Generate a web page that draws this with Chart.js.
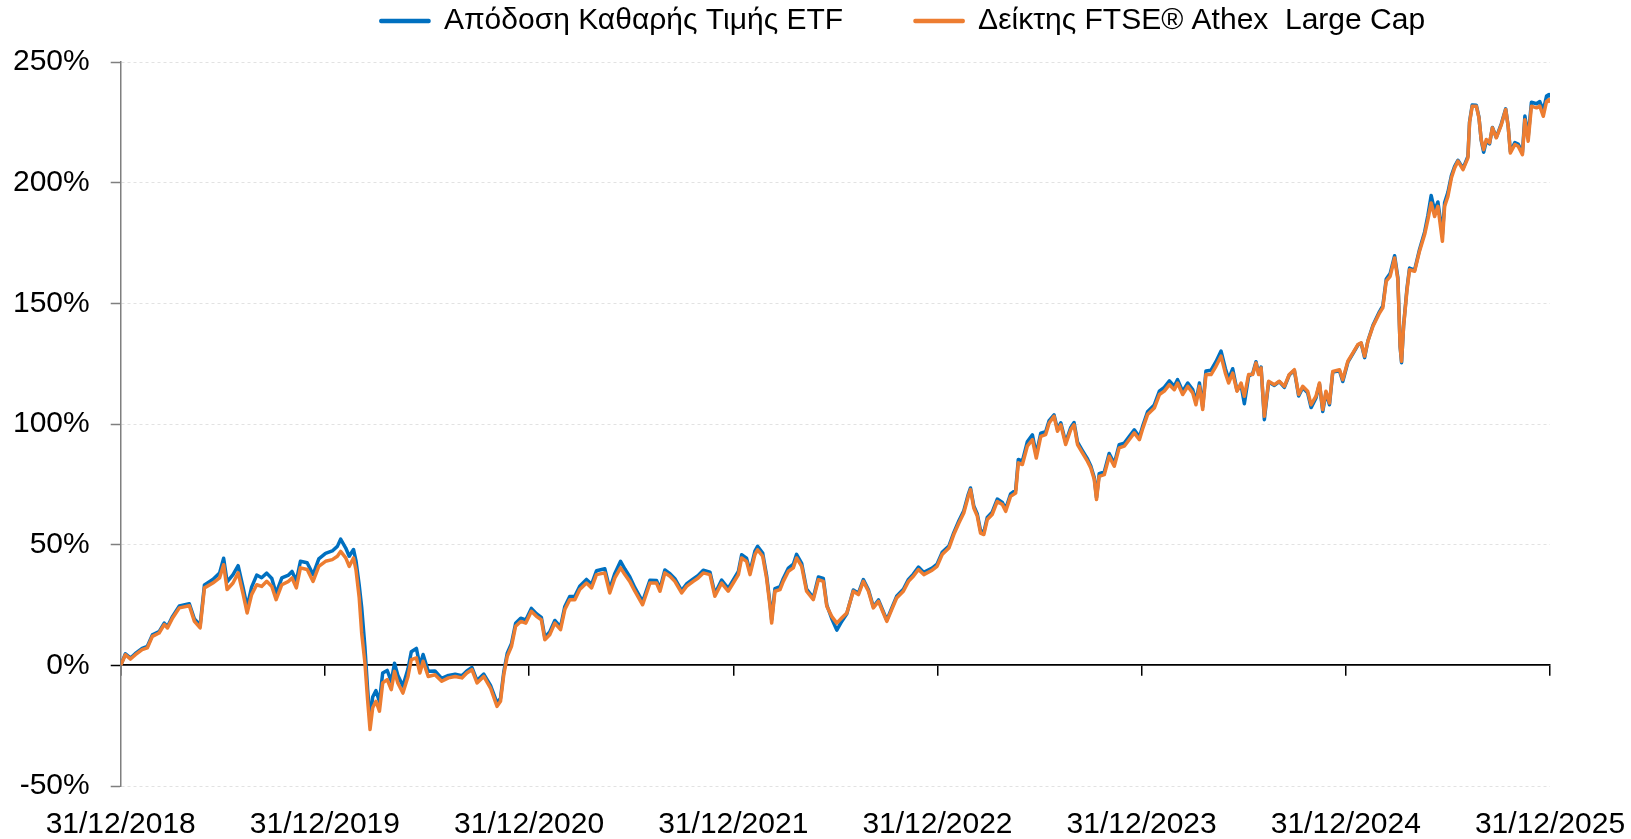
<!DOCTYPE html>
<html>
<head>
<meta charset="utf-8">
<script src="https://cdn.jsdelivr.net/npm/chart.js@4.4.1/dist/chart.umd.min.js"></script>
<style>
  html, body { margin: 0; padding: 0; background: #fff; }
  #wrap { width: 1631px; height: 839px; }
</style>
</head>
<body>
<div id="wrap"><canvas id="output"></canvas></div>
<script>
// years since 31/12/2018
const elapsedYears = [
  0.000,0.023,0.048,0.072,0.105,0.130,0.155,0.188,0.213,0.229,
  0.254,0.287,0.336,0.361,0.389,0.410,0.451,0.484,0.504,0.521,
  0.550,0.575,0.600,0.619,0.641,0.666,0.690,0.715,0.740,0.761,
  0.789,0.822,0.839,0.860,0.880,0.913,0.942,0.970,1.003,1.036,
  1.061,1.077,1.102,1.119,1.140,1.152,1.168,1.180,1.196,1.209,
  1.221,1.234,1.250,1.267,1.283,1.305,1.325,1.341,1.357,1.382,
  1.407,1.423,1.448,1.465,1.481,1.506,1.539,1.572,1.605,1.638,
  1.671,1.695,1.720,1.745,1.778,1.811,1.843,1.860,1.876,1.893,
  1.914,1.934,1.959,1.984,2.011,2.036,2.060,2.077,2.101,2.126,
  2.154,2.175,2.199,2.224,2.248,2.281,2.306,2.330,2.371,2.395,
  2.420,2.448,2.469,2.493,2.518,2.556,2.592,2.624,2.641,2.665,
  2.690,2.714,2.747,2.771,2.804,2.828,2.853,2.886,2.910,2.943,
  2.975,3.000,3.025,3.041,3.065,3.082,3.106,3.119,3.144,3.163,
  3.180,3.188,3.204,3.229,3.245,3.270,3.294,3.310,3.335,3.359,
  3.392,3.417,3.441,3.458,3.482,3.507,3.531,3.556,3.588,3.613,
  3.637,3.662,3.686,3.711,3.735,3.752,3.776,3.800,3.833,3.858,
  3.882,3.907,3.933,3.974,3.998,4.023,4.056,4.080,4.105,4.129,
  4.151,4.162,4.178,4.195,4.211,4.227,4.244,4.268,4.293,4.318,
  4.334,4.358,4.383,4.396,4.416,4.440,4.465,4.484,4.506,4.530,
  4.547,4.571,4.588,4.604,4.628,4.653,4.669,4.686,4.710,4.735,
  4.751,4.768,4.779,4.792,4.817,4.841,4.866,4.890,4.915,4.939,
  4.964,4.989,5.004,5.029,5.062,5.087,5.111,5.136,5.160,5.176,
  5.201,5.226,5.250,5.266,5.283,5.299,5.315,5.340,5.364,5.389,
  5.410,5.426,5.446,5.467,5.487,5.503,5.524,5.544,5.560,5.573,
  5.585,5.601,5.622,5.650,5.674,5.699,5.723,5.748,5.769,5.789,
  5.813,5.830,5.854,5.871,5.887,5.903,5.920,5.936,5.969,5.985,
  6.010,6.034,6.059,6.075,6.092,6.108,6.133,6.165,6.181,6.198,
  6.217,6.239,6.255,6.266,6.273,6.283,6.299,6.312,6.337,6.361,
  6.386,6.402,6.418,6.435,6.451,6.473,6.484,6.500,6.517,6.533,
  6.549,6.574,6.598,6.606,6.619,6.639,6.652,6.663,6.675,6.688,
  6.704,6.718,6.737,6.762,6.783,6.795,6.806,6.828,6.844,6.865,
  6.877,6.893,6.909,6.934,6.950,6.967,6.983,6.995,7.000
];

// ETF net price return, %
const etfReturn = [
  0.0,4.8,3.0,4.9,7.0,7.8,12.6,14.0,17.5,16.1,
  20.3,24.6,25.5,19.2,16.6,33.3,35.6,38.2,44.4,34.6,
  37.6,41.3,32.0,24.2,32.4,37.4,36.3,38.2,36.0,29.8,
  36.2,37.4,38.9,35.0,43.1,42.5,37.6,44.1,46.4,47.4,
  49.3,52.3,48.6,45.2,48.0,43.4,33.2,24.1,7.5,-9.8,
  -22.5,-13.1,-10.5,-15.0,-3.2,-2.1,-6.6,0.9,-4.1,-8.6,
  -1.4,5.6,7.0,-0.1,4.5,-2.5,-2.3,-5.4,-4.2,-3.7,
  -4.3,-2.3,-0.9,-6.3,-3.6,-8.3,-15.6,-13.6,-2.7,5.0,
  9.1,17.4,19.5,18.8,23.6,21.4,19.9,11.7,13.8,18.6,
  15.9,24.4,28.5,28.6,32.8,35.6,33.6,39.2,40.0,31.6,
  38.1,43.1,39.9,36.7,32.2,26.4,35.3,35.2,31.8,39.5,
  38.0,35.9,31.0,33.7,35.8,37.2,39.4,38.6,29.7,35.3,
  31.9,35.4,38.9,45.8,44.4,38.8,47.3,49.3,46.5,37.3,
  25.6,18.9,31.8,32.6,36.0,40.3,41.9,46.0,42.3,31.6,
  28.0,36.6,36.0,25.0,19.4,14.6,18.2,21.4,31.2,29.9,
  35.5,31.3,24.3,27.1,22.2,18.7,23.7,28.6,31.5,35.6,
  37.8,40.7,38.5,40.3,41.9,46.8,49.4,55.0,59.9,64.1,
  70.9,73.5,66.0,62.7,55.8,55.1,61.3,63.5,68.9,67.5,
  64.8,71.0,72.6,85.3,84.6,92.6,95.5,87.4,96.2,96.8,
  101.4,103.8,97.8,100.5,92.4,98.6,100.6,92.5,89.0,85.5,
  82.6,77.8,69.5,79.4,80.1,87.8,83.6,91.4,92.1,94.8,
  97.6,94.6,98.8,105.1,107.9,113.6,115.2,117.9,115.6,118.4,
  113.5,117.0,114.3,109.2,117.0,107.1,122.0,122.3,125.8,130.2,
  123.0,118.6,122.9,113.9,116.2,108.4,119.8,120.9,125.8,121.0,
  123.6,101.8,117.4,116.0,117.6,115.2,120.3,122.2,111.6,115.0,
  112.9,106.8,110.8,116.6,105.2,113.0,108.0,121.5,122.1,117.6,
  125.6,129.1,132.7,133.5,127.5,134.4,140.9,146.6,148.9,160.1,
  162.3,169.7,160.6,132.0,125.4,140.9,155.8,164.6,163.8,172.3,
  179.6,186.5,194.7,188.3,192.0,178.6,191.8,196.0,202.9,206.8,
  209.3,205.9,210.9,225.2,232.2,232.1,227.2,217.6,212.6,217.2,
  216.1,222.9,218.8,224.5,230.6,223.5,212.9,216.6,216.0,212.5,
  227.6,218.9,233.3,232.7,233.6,229.9,235.9,236.5,235.3
];

// FTSE Athex Large Cap index, %
const indexReturn = [
  0.0,4.4,2.6,4.4,6.5,7.2,12.0,13.4,16.9,15.5,
  19.6,23.8,24.7,18.2,15.5,32.1,34.1,36.2,41.7,31.4,
  34.1,38.3,29.3,21.7,29.3,33.4,32.7,34.8,32.7,27.2,
  33.4,34.8,36.2,32.1,40.4,39.7,34.8,41.0,43.1,43.8,
  45.2,47.2,44.5,41.0,44.5,39.7,28.0,13.4,1.0,-14.2,
  -26.6,-17.6,-14.9,-19.0,-7.3,-5.9,-10.1,-2.5,-7.3,-11.5,
  -4.6,2.4,3.1,-3.2,1.7,-4.6,-3.9,-6.6,-5.2,-4.6,
  -5.2,-3.2,-1.8,-7.3,-4.6,-9.4,-17.0,-14.9,-3.9,3.7,
  7.9,16.2,18.2,17.5,22.4,20.3,18.9,10.6,12.7,17.5,
  14.8,23.1,27.2,27.2,31.4,34.1,32.1,37.6,38.3,30.0,
  36.2,40.4,37.6,34.8,30.7,25.1,34.1,34.1,30.7,38.3,
  36.9,34.8,30.0,32.7,34.8,36.2,38.3,37.6,28.6,34.1,
  30.7,34.1,37.6,44.5,43.1,37.6,45.9,47.9,45.2,36.2,
  24.5,17.5,30.7,31.4,34.8,39.0,40.4,44.5,41.0,30.7,
  27.2,35.5,34.8,24.5,20.3,17.5,19.6,21.7,30.7,29.3,
  34.8,30.7,23.8,26.5,21.7,18.2,23.1,27.9,30.7,34.8,
  36.9,39.7,37.6,39.4,41.0,45.9,48.6,54.2,59.0,63.1,
  70.0,72.8,65.2,61.8,54.8,54.2,60.4,62.5,67.9,66.6,
  63.8,70.0,71.4,83.9,83.2,90.8,93.5,85.9,94.9,95.6,
  100.4,103.2,97.0,99.7,91.5,97.7,99.7,91.5,88.0,84.5,
  81.8,77.0,68.7,78.3,79.0,86.6,82.5,90.1,90.8,93.5,
  96.3,93.5,97.7,103.9,106.6,112.2,113.6,116.3,114.2,117.0,
  112.2,115.6,112.9,108.0,115.6,106.0,120.5,120.5,123.9,128.1,
  121.1,117.0,121.1,113.6,117.0,111.5,120.5,120.5,125.3,120.5,
  123.2,103.2,117.7,116.3,117.7,115.6,120.5,122.5,112.2,115.6,
  113.6,108.0,111.5,117.0,106.0,113.6,108.7,121.8,122.5,118.4,
  126.0,129.4,132.9,133.6,128.1,134.3,140.5,146.0,148.1,159.2,
  161.2,168.8,159.8,132.2,126.0,140.5,155.0,163.9,163.3,171.6,
  178.5,184.7,191.6,186.0,190.2,175.7,190.2,194.3,201.9,206.1,
  208.9,205.4,210.3,224.8,231.7,231.7,226.9,217.9,213.7,217.9,
  216.5,222.7,218.6,224.1,230.3,223.4,212.3,215.8,215.1,211.6,
  226.1,217.2,231.7,231.0,231.7,227.5,233.7,234.4,233.1
];

const seriesNames = ["Απόδοση Καθαρής Τιμής ETF", "Δείκτης FTSE® Athex  Large Cap"];
const seriesColors = ["#0070C0", "#ED7D31"];
const startYear = 2018; // axis starts at 31/12/2018

Chart.defaults.font.family = "'Liberation Sans', Arial, sans-serif";
Chart.defaults.font.size = 30;
Chart.defaults.color = "#000";

const toPoints = (vals) => vals.map((v, i) => ({ x: elapsedYears[i], y: v }));

// legend: leave room under it and sit it right of centre like the original
const legendPlacement = {
  id: "legendPlacement",
  beforeInit(chart) {
    const fit = chart.legend.fit;
    chart.legend.fit = function () {
      fit.call(this);
      this.height += 16;
    };
  },
  afterLayout(chart) {
    chart.legend.left += 132;
    chart.legend.right += 132;
  },
};

const ctx = document.getElementById("output").getContext("2d");

new Chart(ctx, {
  type: "line",
  data: {
    datasets: [
      {
        label: seriesNames[0],
        data: toPoints(etfReturn),
        borderColor: seriesColors[0],
        backgroundColor: seriesColors[0],
        borderWidth: 3.5,
        borderJoinStyle: "round",
        pointRadius: 0,
        order: 1, // drawn under the index line
      },
      {
        label: seriesNames[1],
        data: toPoints(indexReturn),
        borderColor: seriesColors[1],
        backgroundColor: seriesColors[1],
        borderWidth: 3.5,
        borderJoinStyle: "round",
        pointRadius: 0,
        order: 0,
      },
    ],
  },
  options: {
    responsive: true,
    maintainAspectRatio: false,
    animation: false,
    layout: { padding: { top: -66, left: -8, right: 81, bottom: -4 } },
    plugins: {
      legend: {
        labels: {
          boxWidth: 48,
          boxHeight: 1,
          padding: 72,
          color: "#000",
          sort: (a, b) => a.datasetIndex - b.datasetIndex,
        },
      },
      tooltip: { enabled: false },
    },
    scales: {
      x: {
        type: "linear",
        min: 0,
        max: 7,
        grid: { display: false, tickLength: 21 },
        border: { display: false },
        ticks: {
          stepSize: 1,
          padding: 0,
          autoSkip: false,
          maxRotation: 0,
          callback: (v) => "31/12/" + (startYear + v),
        },
      },
      // zero line with the year tick marks hanging under it
      x0: {
        type: "linear",
        axis: "x",
        position: { y: 0 },
        min: 0,
        max: 7,
        ticks: { display: false, stepSize: 1 },
        grid: { drawOnChartArea: false, tickLength: 10, tickColor: "#000", lineWidth: 1.5 },
        border: { color: "#000", width: 1.8 },
      },
      y: {
        min: -50,
        max: 250,
        ticks: { stepSize: 50, padding: 21, callback: (v) => v + "%" },
        grid: {
          color: (c) => (c.tick.value === 0 ? "rgba(0,0,0,0)" : "#e2e2e2"),
          tickColor: (c) => (c.tick.value === 0 ? "#000" : "#7f7f7f"),
          tickWidth: 1.5,
          tickLength: 10,
          tickBorderDash: [],
        },
        border: { color: "#7f7f7f", width: 1.5, dash: [3, 3] },
      },
    },
  },
  plugins: [legendPlacement],
});
</script>
</body>
</html>
